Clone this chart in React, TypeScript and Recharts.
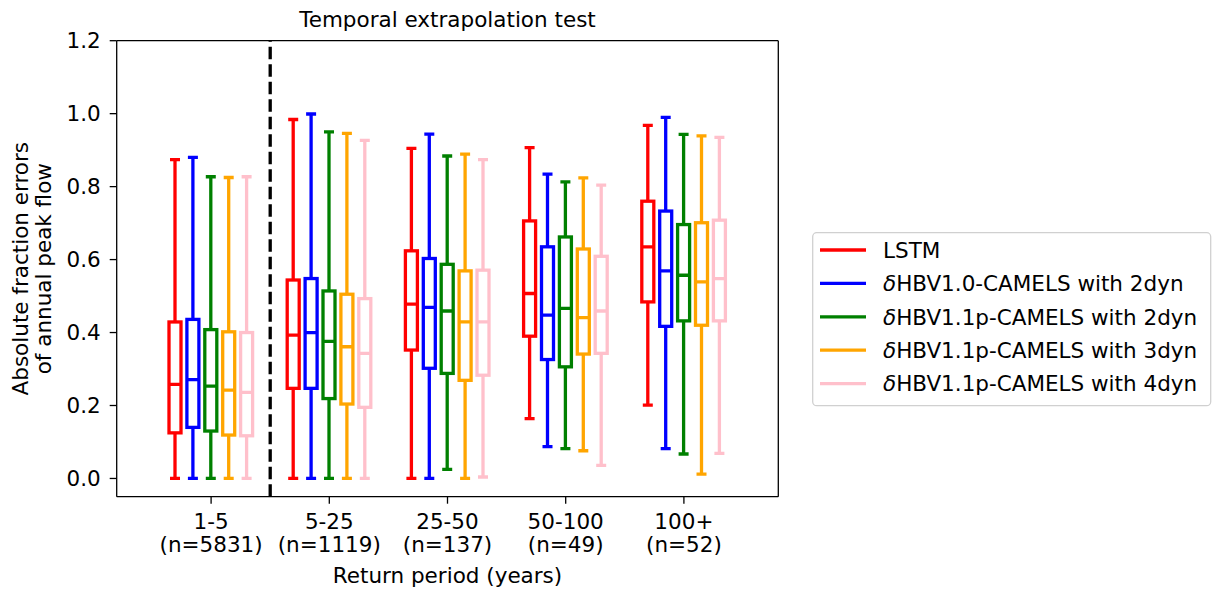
import { ComposedChart, Bar, XAxis, YAxis, ReferenceLine, Legend } from "recharts"

const periods = ["1-5", "5-25", "25-50", "50-100", "100+"]
const counts = ["(n=5831)", "(n=1119)", "(n=137)", "(n=49)", "(n=52)"]
const yTicks = [0, 0.2, 0.4, 0.6, 0.8, 1.0, 1.2]

// each row: [min, q1, median, q3, max] for one return period
const lstm = [
  [0, 0.125, 0.258, 0.429, 0.874],
  [0, 0.247, 0.393, 0.544, 0.984],
  [0, 0.352, 0.478, 0.624, 0.905],
  [0.164, 0.39, 0.507, 0.706, 0.907],
  [0.201, 0.484, 0.635, 0.76, 0.968],
]
const hbv10dyn2 = [
  [0, 0.14, 0.271, 0.436, 0.88],
  [0, 0.247, 0.4, 0.548, 0.999],
  [0, 0.302, 0.469, 0.603, 0.944],
  [0.087, 0.326, 0.448, 0.635, 0.834],
  [0.082, 0.417, 0.569, 0.733, 0.99],
]
const hbv11dyn2 = [
  [0, 0.13, 0.253, 0.408, 0.827],
  [0, 0.219, 0.376, 0.514, 0.95],
  [0.025, 0.288, 0.459, 0.587, 0.884],
  [0.082, 0.306, 0.466, 0.662, 0.813],
  [0.067, 0.432, 0.557, 0.696, 0.943],
]
const hbv11dyn3 = [
  [0, 0.119, 0.242, 0.402, 0.825],
  [0, 0.204, 0.361, 0.505, 0.946],
  [0, 0.269, 0.429, 0.569, 0.889],
  [0.076, 0.341, 0.441, 0.629, 0.824],
  [0.012, 0.42, 0.539, 0.701, 0.939],
]
const hbv11dyn4 = [
  [0, 0.117, 0.236, 0.4, 0.827],
  [0, 0.195, 0.343, 0.493, 0.927],
  [0.004, 0.283, 0.429, 0.571, 0.874],
  [0.036, 0.343, 0.459, 0.609, 0.804],
  [0.069, 0.432, 0.548, 0.708, 0.935],
]

const series = [
  { key: "lstm", name: "LSTM", delta: false, color: "#ff0000", stats: lstm },
  { key: "h10d2", name: "HBV1.0-CAMELS with 2dyn", delta: true, color: "#0000ff", stats: hbv10dyn2 },
  { key: "h11d2", name: "HBV1.1p-CAMELS with 2dyn", delta: true, color: "#008000", stats: hbv11dyn2 },
  { key: "h11d3", name: "HBV1.1p-CAMELS with 3dyn", delta: true, color: "#ffa500", stats: hbv11dyn3 },
  { key: "h11d4", name: "HBV1.1p-CAMELS with 4dyn", delta: true, color: "#ffc0cb", stats: hbv11dyn4 },
]

const rows = periods.map((p, i) => {
  const row: any = { period: p }
  series.forEach((s) => {
    row[s.key] = [s.stats[i][0], s.stats[i][4]]
  })
  return row
})

const FONT = "DejaVu Sans"
const FS = 21.5
const LW = 3.3
const AX = { stroke: "#000", strokeWidth: 1.3 }

const BoxShape = (props: any) => {
  const { x, y, width, height, stats, color } = props
  const [mn, q1, md, q3, mx] = stats
  const py = (v: number) => y + (height * (mx - v)) / (mx - mn)
  const cx = x + width / 2
  const cap = 5
  return (
    <g stroke={color} strokeWidth={LW} fill="none">
      <line x1={cx} x2={cx} y1={py(mx)} y2={py(q3)} />
      <line x1={cx} x2={cx} y1={py(q1)} y2={py(mn)} />
      <line x1={cx - cap} x2={cx + cap} y1={py(mx)} y2={py(mx)} />
      <line x1={cx - cap} x2={cx + cap} y1={py(mn)} y2={py(mn)} />
      <rect x={x} y={py(q3)} width={width} height={py(q1) - py(q3)} />
      <line x1={x} x2={x + width} y1={py(md)} y2={py(md)} />
    </g>
  )
}

const PeriodTick = (props: any) => {
  const { x, y, payload, index } = props
  return (
    <text x={x} y={y} textAnchor="middle" fontFamily={FONT} fontSize={FS} fill="#000">
      <tspan x={x} dy={23.6}>{payload.value}</tspan>
      <tspan x={x} dy={22.4}>{counts[index]}</tspan>
    </text>
  )
}

const LegendBox = () => (
  <svg width={400} height={176}>
    <rect x={0.7} y={0.7} width={398} height={173} rx={4} fill="#fff" stroke="#d0d0d0" strokeWidth={1.3} />
    {series.map((s, i) => {
      const cy = 18 + i * 33.4
      return (
        <g key={s.key}>
          <line x1={8} x2={54} y1={cy} y2={cy} stroke={s.color} strokeWidth={LW} />
          <text x={71} y={cy + 7.8} fontFamily={FONT} fontSize={FS} fill="#000">
            {s.delta && <tspan fontStyle="italic">δ</tspan>}
            {s.name}
          </text>
        </g>
      )
    })}
  </svg>
)

export default function App() {
  return (
    <div style={{ position: "absolute", left: 0, top: 0, background: "#fff" }}>
      <ComposedChart
        width={1213}
        height={590}
        data={rows}
        margin={{ top: 39.7, right: 433.7, bottom: 33.3, left: 56.7 }}
        barSize={12}
        barGap={5.9}
      >
        <XAxis
          dataKey="period"
          height={60}
          padding={{ left: 35.3, right: 35.3 }}
          tick={<PeriodTick />}
          tickSize={7}
          axisLine={AX}
          tickLine={AX}
          interval={0}
        />
        <XAxis xAxisId="top" orientation="top" dataKey="period" height={1} tick={false} tickLine={false} axisLine={AX} />
        <YAxis
          width={60}
          domain={[-0.05, 1.2]}
          allowDataOverflow
          ticks={yTicks}
          tickFormatter={(v: number) => v.toFixed(1)}
          tickSize={7}
          tickMargin={9}
          tick={{ fill: "#000", fontFamily: FONT, fontSize: FS }}
          axisLine={AX}
          tickLine={AX}
        />
        <YAxis yAxisId="right" orientation="right" width={1} domain={[-0.05, 1.2]} tick={false} tickLine={false} axisLine={AX} />
        <ReferenceLine x="1-5" position="end" stroke="#000" strokeWidth={LW} strokeDasharray="12.5 5" />
        {series.map((s) => (
          <Bar
            key={s.key}
            dataKey={s.key}
            name={s.name}
            fill={s.color}
            isAnimationActive={false}
            shape={(p: any) => <BoxShape {...p} stats={s.stats[p.index]} color={s.color} />}
          />
        ))}
        <Legend
          layout="vertical"
          align="center"
          verticalAlign="middle"
          wrapperStyle={{ position: "absolute", left: 812, top: 231.6, width: 400, height: 176 }}
          content={() => <LegendBox />}
        />
        <text x={447.5} y={26.7} textAnchor="middle" fontFamily={FONT} fontSize={FS} fill="#000">
          Temporal extrapolation test
        </text>
        <text x={447.5} y={583.3} textAnchor="middle" fontFamily={FONT} fontSize={FS} fill="#000">
          Return period (years)
        </text>
        <text transform="translate(28.3 268.7) rotate(-90)" textAnchor="middle" fontFamily={FONT} fontSize={FS} fill="#000">
          <tspan x={0} y={0}>Absolute fraction errors</tspan>
          <tspan x={0} dy={23}>of annual peak flow</tspan>
        </text>
      </ComposedChart>
    </div>
  )
}
